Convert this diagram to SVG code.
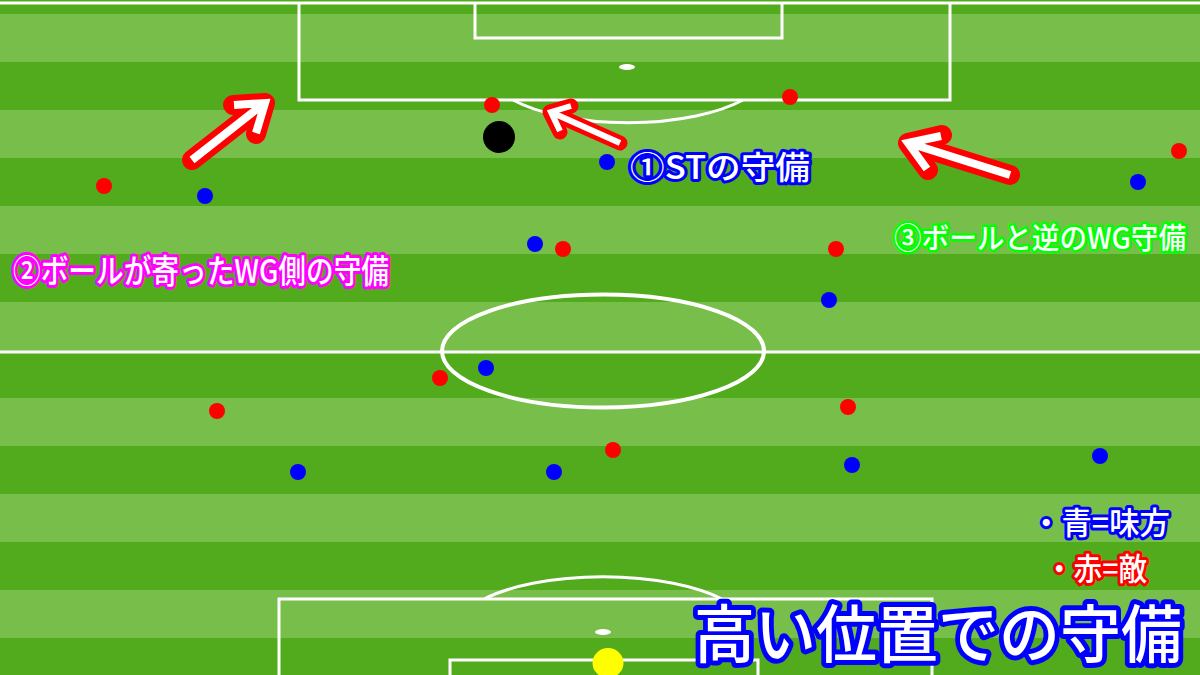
<svg xmlns="http://www.w3.org/2000/svg" width="1200" height="675" viewBox="0 0 1200 675">
<style>
.ln{fill:none;stroke:#fff;stroke-width:3}
.red{fill:#ff0000}
.blue{fill:#0000ff}
.arO{fill:none;stroke:#ff0000;stroke-linecap:round;stroke-linejoin:round}
.arI{fill:none;stroke:#fff;stroke-linecap:butt;stroke-linejoin:miter}
.t{font-family:"Noto Sans CJK JP","Noto Sans",sans-serif;fill:#fff;paint-order:stroke;stroke-linejoin:round}
</style>
<g id="pitch">
<rect x="0" y="0" width="1200" height="675" fill="#52ab1c"/>
<g fill="#78be4a">
<rect x="0" y="14" width="1200" height="48"/>
<rect x="0" y="110" width="1200" height="48"/>
<rect x="0" y="206" width="1200" height="48"/>
<rect x="0" y="302" width="1200" height="49"/>
<rect x="0" y="398" width="1200" height="48"/>
<rect x="0" y="494" width="1200" height="48"/>
<rect x="0" y="590" width="1200" height="48"/>
</g>
<line class="ln" x1="0" y1="3" x2="1200" y2="3"/>
<polyline class="ln" points="299,3 299,100 950,100 950,3"/>
<polyline class="ln" points="475,3 475,38 782,38 782,3"/>
<ellipse cx="627" cy="67" rx="8" ry="3" fill="#fff"/>
<path class="ln" d="M513 100 A142 55 0 0 0 743 100"/>
<line class="ln" x1="0" y1="352" x2="1200" y2="352"/>
<ellipse cx="603" cy="351" rx="161" ry="56.5" fill="none" stroke="#fff" stroke-width="4"/>
<polyline class="ln" points="279,675 279,599 932,599 932,675"/>
<polyline class="ln" points="450,675 450,660 758,660 758,675"/>
<ellipse cx="603" cy="632" rx="8" ry="3" fill="#fff"/>
<path class="ln" d="M484 599 A148 55 0 0 1 722 599"/>
</g>
<g id="connectors">
<path class="arO" stroke-width="20" d="M192 160 L265 103 M233 105 L265 103 L256 134"/>
<path class="arI" stroke-width="8" d="M192 160 L262 105 M234 105 L265 103 L256 133"/>
<path class="arO" stroke-width="15" d="M620 143 L550 112 M571 106 L550 112 L560 132"/>
<path class="arI" stroke-width="6" d="M620 143 L553 113 M571 106 L551 112 L560 131"/>
<path class="arO" stroke-width="20" d="M1010 175 L908 143 M942 135 L908 143 L928 170"/>
<path class="arI" stroke-width="8" d="M1010 175 L912 144 M941 136 L908 143 L927 169"/>
</g>
<g id="ball"><circle cx="499" cy="137" r="16" fill="#000"/></g>
<g id="goal-ball"><ellipse cx="608" cy="663" rx="15.5" ry="15" fill="#ffff00"/></g>
<g id="enemies">
<circle class="red" cx="104" cy="186" r="8"/>
<circle class="red" cx="492" cy="105" r="8"/>
<circle class="red" cx="790" cy="97" r="8"/>
<circle class="red" cx="1179" cy="151" r="8"/>
<circle class="red" cx="563" cy="249" r="8"/>
<circle class="red" cx="836" cy="249" r="8"/>
<circle class="red" cx="440" cy="378" r="8"/>
<circle class="red" cx="217" cy="411" r="8"/>
<circle class="red" cx="848" cy="407" r="8"/>
<circle class="red" cx="613" cy="450" r="8"/>
</g>
<g id="allies">
<circle class="blue" cx="205" cy="196" r="8"/>
<circle class="blue" cx="607" cy="162" r="8"/>
<circle class="blue" cx="1138" cy="182" r="8"/>
<circle class="blue" cx="535" cy="244" r="8"/>
<circle class="blue" cx="829" cy="300" r="8"/>
<circle class="blue" cx="486" cy="368" r="8"/>
<circle class="blue" cx="298" cy="472" r="8"/>
<circle class="blue" cx="554" cy="472" r="8"/>
<circle class="blue" cx="852" cy="465" r="8"/>
<circle class="blue" cx="1100" cy="456" r="8"/>
</g>
<g id="label-st">
<text class="t" x="630" y="179" font-size="32" font-weight="500" stroke="#0000ff" stroke-width="6" textLength="180" lengthAdjust="spacingAndGlyphs">①STの守備</text>
</g>
<g id="label-wg-ball">
<text class="t" x="13" y="283" font-size="33" font-weight="500" stroke="#ff00ff" stroke-width="6" textLength="376" lengthAdjust="spacingAndGlyphs">②ボールが寄ったWG側の守備</text>
</g>
<g id="label-wg-opp">
<text class="t" x="894" y="249" font-size="29" font-weight="500" stroke="#00ff00" stroke-width="5" textLength="292" lengthAdjust="spacingAndGlyphs">③ボールと逆のWG守備</text>
</g>
<g id="legend">
<text class="t" x="1031" y="534" font-size="31" font-weight="500" stroke="#0000ff" stroke-width="6" textLength="139" lengthAdjust="spacingAndGlyphs">・青=味方</text>
<text class="t" x="1045" y="580" font-size="31" font-weight="500" stroke="#ff0000" stroke-width="6" textLength="102" lengthAdjust="spacingAndGlyphs">・赤=敵</text>
</g>
<g id="title">
<text class="t" x="694" y="657" font-size="63" font-weight="500" stroke="#0000ff" stroke-width="10" textLength="488" lengthAdjust="spacingAndGlyphs">高い位置での守備</text>
</g>
</svg>
